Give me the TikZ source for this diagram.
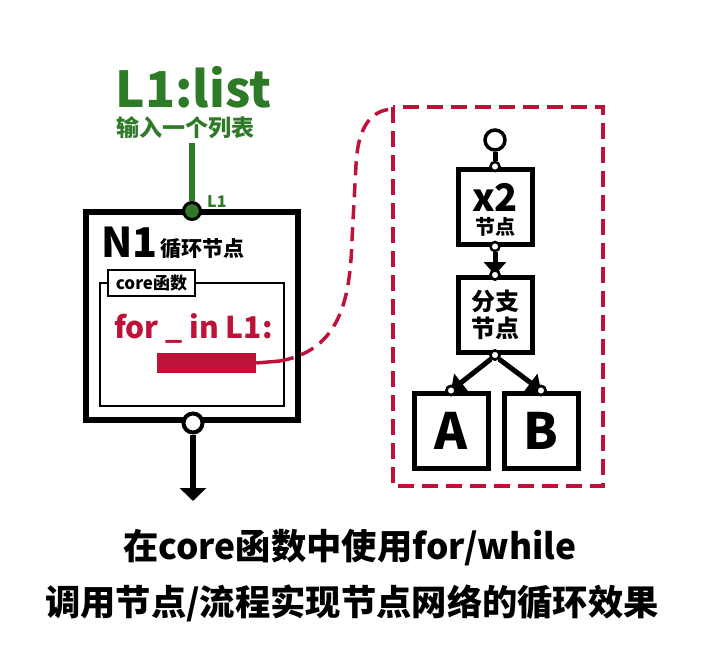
\documentclass[tikz,border=0pt]{standalone}
\usepackage{fontspec}
\setmainfont{Noto Sans CJK SC}
\usetikzlibrary{arrows.meta}
\definecolor{lgreen}{RGB}{46,122,40}
\definecolor{crim}{RGB}{190,18,56}
\tikzset{
  fs/.style={font=\fontsize{#1}{#1}\selectfont\bfseries},
  bigbox/.style={draw=black,line width=6pt,fill=white,minimum width=212pt,minimum height=208pt,inner sep=0pt},
  corebox/.style={draw=black,line width=2pt,minimum width=184pt,minimum height=123pt,inner sep=0pt},
  smallbox/.style={draw=black,line width=5pt,fill=white,minimum width=74pt,minimum height=75pt,inner sep=0pt,align=center},
  port/.style={circle,draw=black,line width=2.5pt,fill=white,minimum size=9pt,inner sep=0pt},
  bigport/.style={circle,draw=black,line width=3.5pt,fill=white,minimum size=20pt,inner sep=0pt},
  conn/.style={line width=5pt,-{Triangle[width=22pt,length=13pt]}},
}
\begin{document}
\begin{tikzpicture}[x=1pt,y=-1pt]
\useasboundingbox (0,0) rectangle (710,661);
% title
\node[fs=49.5,text=lgreen,anchor=base] (title) at (193.5,107) {L1:list};
\node[fs=23,text=lgreen,anchor=base] (sub) at (185,136) {输入一个列表};
% main box
\node[bigbox] (n1) at (192,316) {};
\coordinate (gtop) at (192,143);
\node[circle,draw=black,line width=3pt,fill=lgreen,minimum size=17pt,inner sep=0pt] (gport) at (192,211) {};
\draw[lgreen,line width=6pt] (gtop) -- (gport.north);
\node[fs=16,text=lgreen,anchor=base west,inner sep=0pt] (l1) at (207,207) {L1};
\node[fs=41,anchor=base west,inner sep=0pt] (n1t) at (101,257) {N1};
\node[fs=21,anchor=base west,inner sep=0pt] (n1s) at (160,256) {循环节点};
% core box
\node[corebox] (core) at (192,344.5) {};
\node[draw=black,line width=2pt,fill=white,minimum width=87pt,minimum height=26pt,inner sep=0pt,fs=17] (corel) at (151.5,283) {core函数};
\node[fs=30,text=crim,anchor=base west,inner sep=0pt] (forl) at (114,338) {for \_ in L1:};
\node[fill=crim,minimum width=99pt,minimum height=20pt,inner sep=0pt] (bar) at (206.5,363) {};
% bottom output
\node[bigport,line width=4pt,minimum size=19pt] (outp) at (193,423) {};
\coordinate (outend) at (193,501);
\draw[line width=6pt,-{Triangle[width=26pt,length=13pt]}] (outp.south) -- (outend);
% dashed region
\draw[crim,line width=4pt,dash pattern=on 16pt off 8pt] (393,107) rectangle (603,486);
\coordinate (cstart) at (280,361);
\coordinate (cend) at (393,109);
\draw[crim,line width=3.5pt] (bar.east) -- (cstart);
\draw[crim,line width=3.5pt,dash pattern=on 14pt off 8pt] (cstart) .. controls (340,350) and (350,300) .. (352,240) -- (356,165) .. controls (358,125) and (372,110) .. (cend);
% right side nodes
\node[bigport] (top) at (495,140) {};
\node[smallbox] (x2) at (495,206.5) {};
\node[fs=38,anchor=base] (x2t) at (495,211) {x2};
\node[fs=20,anchor=base] (x2s) at (495,234) {节点};
\node[smallbox,font=\fontsize{24}{27}\selectfont\bfseries] (br) at (495,315) {分支\\节点};
\node[smallbox,minimum width=74pt,fs=50] (a) at (451,430.5) {A};
\node[smallbox,minimum width=74pt,fs=50] (b) at (541,430.5) {B};
% ports
\node[port] (x2in) at (x2.north) {};
\node[port] (x2out) at (x2.south) {};
\node[port] (brin) at (br.north) {};
\node[port] (brout) at (br.south) {};
\node[port] (ain) at (a.north) {};
\node[port] (bin) at (b.north) {};
\draw[line width=5pt] (top.south) -- (x2in.north);
\draw[conn] (x2out.south) -- (brin.center);
\draw[conn] (brout.south west) -- (ain.center);
\draw[conn] (brout.south east) -- (bin.center);
\node[port] at (brin) {};
\node[port] at (ain) {};
\node[port] at (bin) {};
\node[port] at (brout) {};
% caption
\node[fs=35.3,anchor=base] (cap1) at (350,559) {在core函数中使用for/while};
\node[fs=35.3,anchor=base] (cap2) at (352,615) {调用节点/流程实现节点网络的循环效果};
\end{tikzpicture}
\end{document}
